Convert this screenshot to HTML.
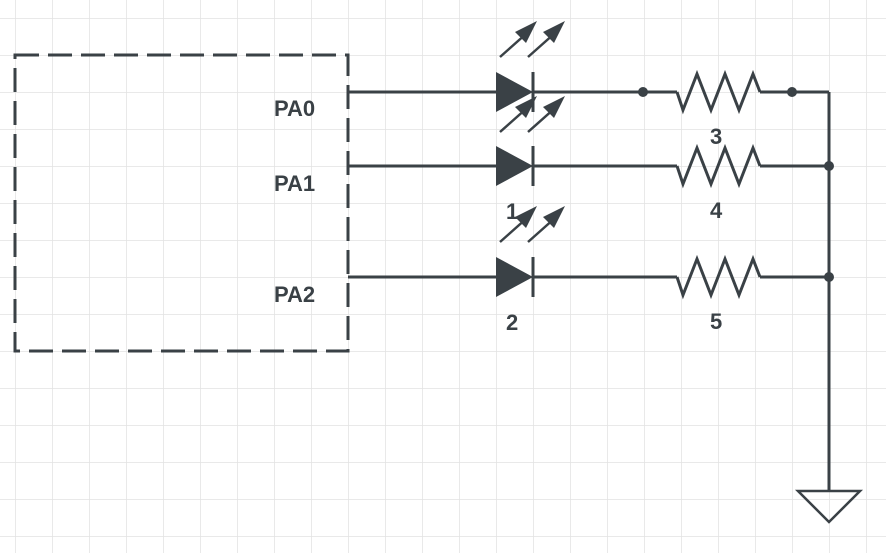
<!DOCTYPE html>
<html><head><style>
html,body{margin:0;padding:0;background:#fff}
svg{display:block}
text{font-family:"Liberation Sans",sans-serif;font-weight:bold;font-size:22px;fill:#3a4146}
</style></head><body>
<svg width="886" height="553" viewBox="0 0 886 553">
<defs>
<pattern id="g" x="15" y="18" width="37" height="37" patternUnits="userSpaceOnUse">
<path d="M0 0H37M0 0V37" stroke="#e2e2e2" stroke-width="1.5" fill="none"/>
</pattern>
<g id="arr">
<line x1="0" y1="0" x2="27" y2="-24" stroke="#3a4146" stroke-width="2.5"/>
<polygon points="37,-36 15,-25 26,-14" fill="#3a4146"/>
</g>
</defs>
<rect width="886" height="553" fill="url(#g)"/>
<g stroke="#3a4146" stroke-width="3" fill="none">
<rect x="15" y="55" width="333" height="296" stroke-dasharray="24,9"/>
<path d="M348 92H496M348 166H496M348 277H496"/>
<path d="M533 92H677M533 166H677M533 277H677"/>
<path d="M760 92H829M760 166H829M760 277H829M829 92V491"/>
<path d="M533 72V112M533 146V186M533 257V297"/>
<path d="M677 92L683 110L697 74L711 110L725 74L739 110L753 74L760 92"/>
<path d="M677 166L683 184L697 148L711 184L725 148L739 184L753 148L760 166"/>
<path d="M677 277L683 295L697 259L711 295L725 259L739 295L753 259L760 277"/>
<polygon points="798,491 860,491 829,522" stroke-width="2.5"/>
</g>
<g fill="#3a4146">
<polygon points="496,72 533,92 496,112"/>
<polygon points="496,146 533,166 496,186"/>
<polygon points="496,257 533,277 496,297"/>
<circle cx="643" cy="92" r="5"/><circle cx="792" cy="92" r="5"/>
<circle cx="829" cy="166" r="5"/><circle cx="829" cy="277" r="5"/>
</g>
<use href="#arr" x="500" y="57"/><use href="#arr" x="528" y="57"/>
<use href="#arr" x="500" y="132"/><use href="#arr" x="528" y="132"/>
<use href="#arr" x="500" y="242"/><use href="#arr" x="528" y="242"/>
<text x="274" y="116">PA0</text>
<text x="274" y="191">PA1</text>
<text x="274" y="302">PA2</text>
<text x="710" y="144">3</text>
<text x="710" y="218">4</text>
<text x="710" y="329">5</text>
<text x="506" y="219">1</text>
<text x="506" y="330">2</text>
</svg>
</body></html>
